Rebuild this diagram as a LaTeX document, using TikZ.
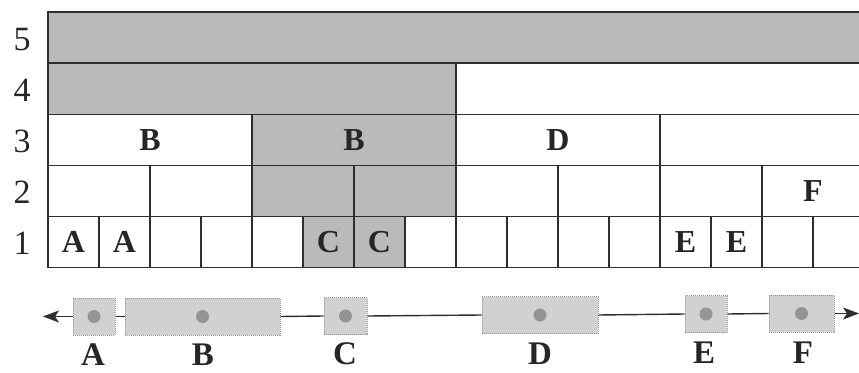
\documentclass[tikz,border=0pt]{standalone}
\usepackage{fontspec}
\setmainfont{Liberation Serif}
\usetikzlibrary{arrows.meta}
\definecolor{cellgray}{gray}{0.73}
\definecolor{boxgray}{gray}{0.82}
\definecolor{dotgray}{gray}{0.58}
\definecolor{linegray}{gray}{0.18}
\definecolor{inkgray}{gray}{0.15}
\newcommand\gcell[6]{%
  \node[cell,#5,minimum width=#3*51pt] (#1) at ({48+51*#2+25.5*#3},{12+(5-#4)*51.1+25.55}) {#6};}
\begin{document}
\begin{tikzpicture}[x=1pt,y=-1pt,
  cell/.style={draw=linegray, line width=1.3pt, rectangle, inner sep=0pt,
    minimum height=51.1pt, font=\fontsize{32}{32}\selectfont\bfseries, text=inkgray},
  shaded/.style={fill=cellgray},
  rownum/.style={font=\fontsize{34}{34}\selectfont, text=inkgray, inner sep=0pt},
  event/.style={draw=dotgray, densely dotted, line width=1pt, fill=boxgray,
    minimum height=37pt, inner sep=0pt},
  evdot/.style={fill=dotgray},
  evlabel/.style={font=\fontsize{33}{33}\selectfont\bfseries, text=inkgray, inner sep=0pt},
  axis/.style={draw=linegray, line width=1.4pt},
  tip/.style={-{Stealth[length=16pt,width=12pt,inset=4pt]}},
]
\useasboundingbox (0,0) rectangle (859,372);
\clip (0,0) rectangle (859,372);
% row 5
\gcell{r5}{0}{16}{5}{shaded}{}
% row 4
\gcell{r4a}{0}{8}{4}{shaded}{}
\gcell{r4b}{8}{8}{4}{}{}
% row 3
\gcell{r3a}{0}{4}{3}{}{B}
\gcell{r3b}{4}{4}{3}{shaded}{B}
\gcell{r3c}{8}{4}{3}{}{D}
\gcell{r3d}{12}{4}{3}{}{}
% row 2
\gcell{r2a}{0}{2}{2}{}{}
\gcell{r2b}{2}{2}{2}{}{}
\gcell{r2c}{4}{2}{2}{shaded}{}
\gcell{r2d}{6}{2}{2}{shaded}{}
\gcell{r2e}{8}{2}{2}{}{}
\gcell{r2f}{10}{2}{2}{}{}
\gcell{r2g}{12}{2}{2}{}{}
\gcell{r2h}{14}{2}{2}{}{F}
% row 1
\gcell{r1a}{0}{1}{1}{}{A}
\gcell{r1b}{1}{1}{1}{}{A}
\gcell{r1c}{2}{1}{1}{}{}
\gcell{r1d}{3}{1}{1}{}{}
\gcell{r1e}{4}{1}{1}{}{}
\gcell{r1f}{5}{1}{1}{shaded}{C}
\gcell{r1g}{6}{1}{1}{shaded}{C}
\gcell{r1h}{7}{1}{1}{}{}
\gcell{r1i}{8}{1}{1}{}{}
\gcell{r1j}{9}{1}{1}{}{}
\gcell{r1k}{10}{1}{1}{}{}
\gcell{r1l}{11}{1}{1}{}{}
\gcell{r1m}{12}{1}{1}{}{E}
\gcell{r1n}{13}{1}{1}{}{E}
\gcell{r1o}{14}{1}{1}{}{}
\gcell{r1p}{15}{1}{1}{}{}
% row numbers
\node[rownum] (n5) at (22,39.5) {5};
\node[rownum] (n4) at (22,90.5) {4};
\node[rownum] (n3) at (22,141.5) {3};
\node[rownum] (n2) at (22,192.5) {2};
\node[rownum] (n1) at (22,243.5) {1};
% timeline
\node[event, minimum width=42pt]  (A) at (94,316.5) {};
\node[event, minimum width=155pt] (B) at (202.5,316.5) {};
\node[event, minimum width=43pt]  (C) at (345.5,316) {};
\node[event, minimum width=116pt] (D) at (540,315) {};
\node[event, minimum width=42pt]  (E) at (706,314) {};
\node[event, minimum width=65pt]  (F) at (801.5,313.5) {};
\foreach \n in {A,B,C,D,E,F} \fill[evdot] (\n.center) circle (6.5pt);
\coordinate (la) at (43,316.5);
\coordinate (ra) at (859,313.5);
\draw[axis,tip] (A.west) -- (la);
\draw[axis] (A.east) -- (B.west);
\draw[axis] (B.east) -- (C.west);
\draw[axis] (C.east) -- (D.west);
\draw[axis] (D.east) -- (E.west);
\draw[axis] (E.east) -- (F.west);
\draw[axis,tip] (F.east) -- (ra);
% event labels
\node[evlabel] (lA) at (93,355) {A};
\node[evlabel] (lB) at (203,355) {B};
\node[evlabel] (lC) at (345,354) {C};
\node[evlabel] (lD) at (540,354) {D};
\node[evlabel] (lE) at (704,353) {E};
\node[evlabel] (lF) at (803,353) {F};
\end{tikzpicture}
\end{document}
